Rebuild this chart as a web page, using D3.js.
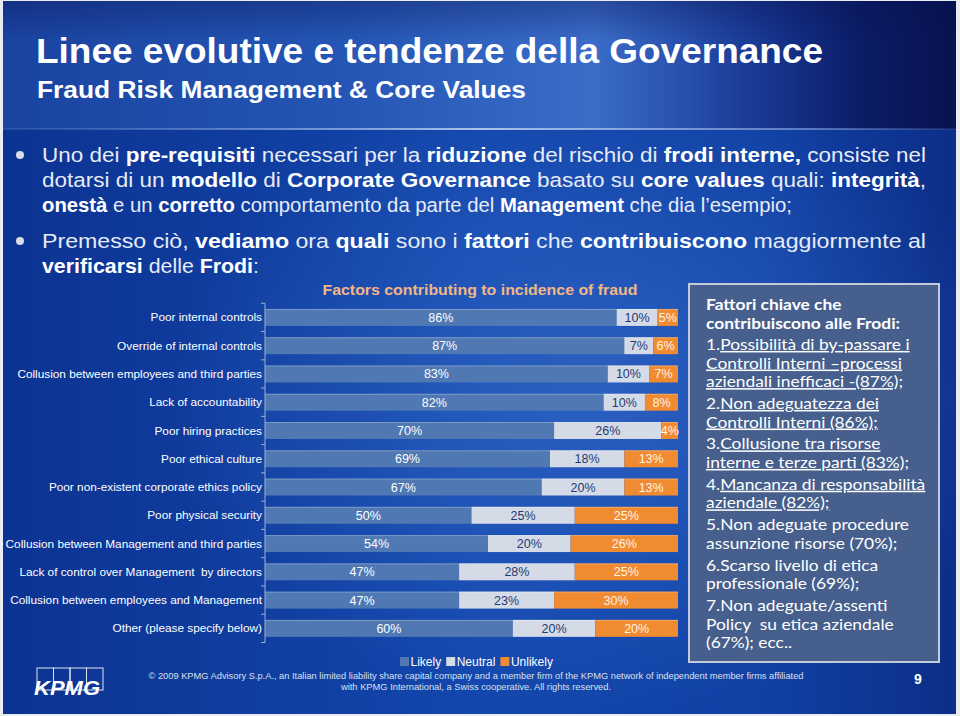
<!DOCTYPE html>
<html><head><meta charset="utf-8">
<script src="https://cdn.jsdelivr.net/npm/d3@7"></script>
<style>html,body{margin:0;padding:0;background:#e9edf3;}svg{display:block;}</style>
</head><body><div id="chart"></div>
<script>
// ---------- DATA ----------
const categories = [
  "Poor internal controls",
  "Override of internal controls",
  "Collusion between employees and third parties",
  "Lack of accountability",
  "Poor hiring practices",
  "Poor ethical culture",
  "Poor non-existent corporate ethics policy",
  "Poor physical security",
  "Collusion between Management and third parties",
  "Lack of control over Management  by directors",
  "Collusion between employees and Management",
  "Other (please specify below)"
];
const likely   = [86, 87, 83, 82, 70, 69, 67, 50, 54, 47, 47, 60];
const neutral  = [10,  7, 10, 10, 26, 18, 20, 25, 20, 28, 23, 20];
const unlikely = [ 5,  6,  7,  8,  4, 13, 13, 25, 26, 25, 30, 20];
const seriesNames = ["Likely", "Neutral", "Unlikely"];

const titleText = "Linee evolutive e tendenze della Governance";
const subtitleText = "Fraud Risk Management & Core Values";
const chartTitle = "Factors contributing to incidence of fraud";

const bulletLines = [
  [["Uno dei ",0],["pre-requisiti",1],[" necessari per la ",0],["riduzione",1],[" del rischio di ",0],["frodi interne,",1],[" consiste nel",0]],
  [["dotarsi di un ",0],["modello",1],[" di ",0],["Corporate Governance",1],[" basato su ",0],["core values",1],[" quali: ",0],["integrità",1],[",",0]],
  [["onestà",1],[" e un ",0],["corretto",1],[" comportamento da parte del ",0],["Management",1],[" che dia l\u2019esempio;",0]],
  [["Premesso ciò, ",0],["vediamo",1],[" ora ",0],["quali",1],[" sono i ",0],["fattori",1],[" che ",0],["contribuiscono",1],[" maggiormente al",0]],
  [["verificarsi",1],[" delle ",0],["Frodi",1],[":",0]]
];

const boxHead = ["Fattori chiave che", "contribuiscono alle Frodi:"];
const boxItems = [
  {n:"1.", lines:["Possibilità di by-passare i","Controlli Interni \u2013processi","aziendali inefficaci -(87%);"], u:true},
  {n:"2.", lines:["Non adeguatezza dei","Controlli Interni (86%);"], u:true},
  {n:"3.", lines:["Collusione tra risorse","interne e terze parti (83%);"], u:true},
  {n:"4.", lines:["Mancanza di responsabilità","aziendale (82%);"], u:true},
  {n:"5.", lines:["Non adeguate procedure","assunzione risorse (70%);"], u:false},
  {n:"6.", lines:["Scarso livello di etica","professionale (69%);"], u:false},
  {n:"7.", lines:["Non adeguate/assenti","Policy  su etica aziendale","(67%); ecc.."], u:false}
];

const footerLines = [
  "\u00A9 2009 KPMG Advisory S.p.A., an Italian limited liability share capital company and a member firm of the KPMG network of independent member firms affiliated",
  "with KPMG International, a Swiss cooperative. All rights reserved."
];
const pageNumber = "9";

// ---------- DRAW ----------
const W = 960, H = 716;
const colors = {Likely:"#5079b4", Neutral:"#d5dbe6", Unlikely:"#f08b31"};
const labelColors = {Likely:"#ffffff", Neutral:"#1f3a72", Unlikely:"#fff3e6"};
const narrow = "'Liberation Sans Narrow','Arial Narrow','Liberation Sans',Arial,sans-serif";
const sans = "'Liberation Sans',Arial,Helvetica,sans-serif";

const svg = d3.select("#chart").append("svg").attr("width", W).attr("height", H);
const defs = svg.append("defs");

const g1 = defs.append("linearGradient").attr("id","bodyGrad").attr("x1","0").attr("x2","1").attr("y1","0").attr("y2","0");
[["0","#0c3392"],["0.5","#1346ac"],["0.8","#1040a4"],["1","#0c2e88"]].forEach(s=>g1.append("stop").attr("offset",s[0]).attr("stop-color",s[1]));
const g2 = defs.append("radialGradient").attr("id","glow").attr("cx","0.62").attr("cy","0.55").attr("r","0.45");
g2.append("stop").attr("offset","0").attr("stop-color","#3f78d6").attr("stop-opacity",0.55);
g2.append("stop").attr("offset","1").attr("stop-color","#3f78d6").attr("stop-opacity",0);
const g3 = defs.append("linearGradient").attr("id","headGrad").attr("x1","0").attr("x2","1").attr("y1","0").attr("y2","0");
[["0","#1a43a0"],["0.35","#2455b4"],["0.62","#3a6cc8"],["0.78","#1a3c98"],["0.9","#0b1c66"],["1","#08124f"]].forEach(s=>g3.append("stop").attr("offset",s[0]).attr("stop-color",s[1]));
const g4 = defs.append("linearGradient").attr("id","topDark").attr("x1","0").attr("x2","0").attr("y1","0").attr("y2","1");
g4.append("stop").attr("offset","0").attr("stop-color","#061050").attr("stop-opacity",0.35);
g4.append("stop").attr("offset","1").attr("stop-color","#061050").attr("stop-opacity",0);
const g5 = defs.append("linearGradient").attr("id","lineGrad").attr("x1","0").attr("x2","1");
[["0","#6f95da",0.2],["0.5","#b9cdf0",0.9],["0.85","#8aa8e0",0.6],["1","#8aa8e0",0.1]].forEach(s=>g5.append("stop").attr("offset",s[0]).attr("stop-color",s[1]).attr("stop-opacity",s[2]));

// slide background
svg.append("rect").attr("x",0).attr("y",0).attr("width",W).attr("height",H).attr("fill","#e9edf3");
svg.append("rect").attr("x",3).attr("y",1).attr("width",953).attr("height",713).attr("fill","url(#bodyGrad)");
svg.append("rect").attr("x",3).attr("y",1).attr("width",953).attr("height",713).attr("fill","url(#glow)");
svg.append("rect").attr("x",3).attr("y",1).attr("width",953).attr("height",128).attr("fill","url(#headGrad)");
svg.append("rect").attr("x",3).attr("y",1).attr("width",953).attr("height",40).attr("fill","url(#topDark)");
svg.append("rect").attr("x",3).attr("y",128).attr("width",953).attr("height",2).attr("fill","url(#lineGrad)");

// titles
svg.append("text").attr("x",36).attr("y",63).attr("fill","#fff").attr("font-family",narrow)
  .attr("font-weight","bold").attr("font-size",35).attr("textLength",787).attr("lengthAdjust","spacingAndGlyphs").text(titleText);
svg.append("text").attr("x",37).attr("y",98).attr("fill","#fff").attr("font-family",narrow)
  .attr("font-weight","bold").attr("font-size",24).attr("textLength",489).attr("lengthAdjust","spacingAndGlyphs").text(subtitleText);

// bullets
const bulletBase = [162, 187, 212, 248, 273];
const bulletLen = [884, 884, 750, 884, 217];
bulletLines.forEach((segs, i) => {
  const t = svg.append("text").attr("x",42).attr("y",bulletBase[i]).attr("font-family",narrow)
    .attr("font-size",20.5).attr("fill","#e6ebf5")
    .attr("textLength",bulletLen[i]).attr("lengthAdjust","spacingAndGlyphs").attr("xml:space","preserve");
  segs.forEach(s => t.append("tspan").attr("font-weight", s[1] ? "bold" : "normal").attr("fill", s[1] ? "#ffffff" : "#e6ebf5").text(s[0]));
});
[155, 241].forEach(cy => svg.append("circle").attr("cx",20).attr("cy",cy).attr("r",4).attr("fill","#d8dde8"));

// chart
const x = d3.scaleLinear().domain([0,1]).range([265, 678]);
const y = d3.scaleBand().domain(categories).range([303.3, 642.5]).paddingInner(0.4).paddingOuter(0.2);

const rows = categories.map((c,i) => ({cat:c, Likely:likely[i], Neutral:neutral[i], Unlikely:unlikely[i]}));
const stack = d3.stack().keys(seriesNames).offset(d3.stackOffsetExpand)(rows);

svg.append("text").attr("x", 480).attr("y", 295).attr("text-anchor","middle").attr("fill","#f3b685")
  .attr("font-family",sans).attr("font-weight","bold").attr("font-size",15)
  .attr("textLength",315).attr("lengthAdjust","spacingAndGlyphs").text(chartTitle);

const layers = svg.append("g").selectAll("g").data(stack).join("g").attr("fill", d => colors[d.key]);
layers.selectAll("rect").data(d => d.map(v => ({v0:v[0], v1:v[1], cat:v.data.cat}))).join("rect")
  .attr("x", d => x(d.v0)).attr("width", d => x(d.v1) - x(d.v0))
  .attr("y", d => y(d.cat)).attr("height", y.bandwidth());
layers.selectAll("line.hl").data(d => d.map(v => ({v0:v[0], v1:v[1], cat:v.data.cat}))).join("line")
  .attr("class","hl").attr("x1", d => x(d.v0)).attr("x2", d => x(d.v1))
  .attr("y1", d => y(d.cat) + 0.5).attr("y2", d => y(d.cat) + 0.5)
  .attr("stroke","#ffffff").attr("stroke-opacity",0.25);

const lab = svg.append("g").attr("font-family",sans).attr("font-size",12.5).attr("text-anchor","middle");
stack.forEach(layer => {
  layer.forEach(v => {
    lab.append("text").attr("x", (x(v[0]) + x(v[1]))/2).attr("y", y(v.data.cat) + y.bandwidth()/2 + 4.5)
      .attr("fill", labelColors[layer.key]).text(v.data[layer.key] + "%");
  });
});

// axis
const axisG = svg.append("g");
axisG.append("line").attr("x1",265).attr("x2",265).attr("y1",y.range()[0]).attr("y2",y.range()[1]).attr("stroke","#9fb0cf").attr("stroke-width",1);
const bounds = categories.map(c => y(c) - y.step()*y.paddingInner()/2).concat([y.range()[1]]);
bounds.forEach(b => axisG.append("line").attr("x1",261).attr("x2",265).attr("y1",b).attr("y2",b).attr("stroke","#9fb0cf"));
svg.append("g").attr("font-family",sans).attr("font-size",11.8).attr("fill","#ffffff").attr("text-anchor","end")
  .selectAll("text").data(categories).join("text")
  .attr("x",262).attr("y", d => y(d) + y.bandwidth()/2 + 4).attr("xml:space","preserve").text(d => d);

// legend
const leg = svg.append("g").attr("font-family",sans).attr("font-size",12).attr("fill","#fff");
let lx = 400;
seriesNames.forEach(n => {
  leg.append("rect").attr("x",lx).attr("y",657).attr("width",9).attr("height",9).attr("fill",colors[n]);
  const t = leg.append("text").attr("x",lx+10.5).attr("y",666).text(n);
  lx += 10.5 + t.node().getComputedTextLength() + 5;
});

// right box
svg.append("rect").attr("x",689).attr("y",284).attr("width",250).attr("height",378)
  .attr("fill","#465f8d").attr("stroke","#c3cbd9").attr("stroke-width",2);
const boxFont = "Lato,'Open Sans',sans-serif";
const box = svg.append("g").attr("transform","translate(706,0) scale(1.135,1)")
  .attr("font-family",boxFont).attr("font-size",15.3).attr("fill","#ffffff");
boxHead.forEach((h,i) => box.append("text").attr("x",0).attr("y",310 + i*18.6).attr("font-weight","bold").text(h));
let by = 350;
boxItems.forEach((it) => {
  it.lines.forEach((ln, j) => {
    const t = box.append("text").attr("x",0).attr("y",by).attr("xml:space","preserve");
    if (j === 0) t.append("tspan").text(it.n);
    t.append("tspan").attr("text-decoration", it.u ? "underline" : null).text(ln);
    by += 18.6;
  });
  by += 21.8 - 18.6;
});

// footer
const foot = svg.append("g").attr("font-family",narrow).attr("font-size",9.5).attr("fill","#d9e0ee").attr("text-anchor","middle");
foot.append("text").attr("x",476).attr("y",679).attr("textLength",655).attr("lengthAdjust","spacingAndGlyphs").text(footerLines[0]);
foot.append("text").attr("x",476).attr("y",690).attr("textLength",270).attr("lengthAdjust","spacingAndGlyphs").text(footerLines[1]);
svg.append("text").attr("x",918).attr("y",684).attr("text-anchor","middle").attr("font-family",sans).attr("font-weight","bold")
  .attr("font-size",14).attr("fill","#fff").text(pageNumber);

// KPMG logo
const logo = svg.append("g");
[0,1,2,3].forEach(i => logo.append("rect").attr("x",37 + i*16.5).attr("y",668).attr("width",16.5).attr("height",22)
  .attr("fill","none").attr("stroke","#dfe5f0").attr("stroke-width",1));
logo.append("text").attr("x",34).attr("y",695).attr("font-family",sans).attr("font-weight","bold").attr("font-style","italic")
  .attr("font-size",20).attr("fill","#fff").attr("textLength",66).attr("lengthAdjust","spacingAndGlyphs").text("KPMG");
</script></body></html>
